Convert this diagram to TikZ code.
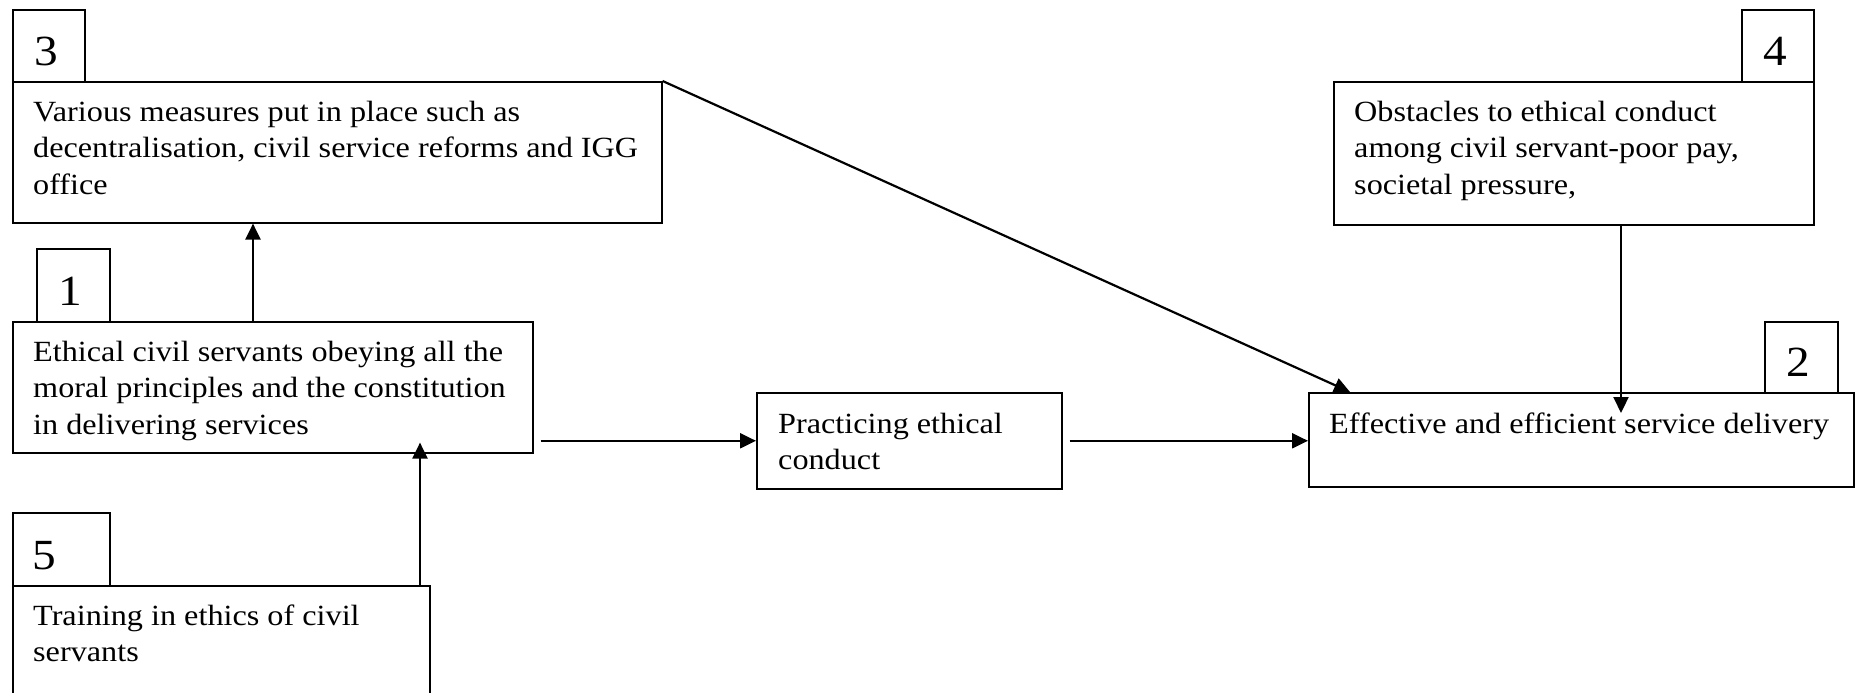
\documentclass[tikz,border=0pt]{standalone}
\usepackage{fontspec}
\setmainfont{Liberation Serif}[FakeStretch=1.1]
\usetikzlibrary{arrows.meta,calc}
\tikzset{
  box/.style={draw, line width=1.6pt, rectangle, inner sep=0pt, anchor=north west},
  txt/.style={anchor=north west, inner sep=0pt, font=\fontsize{29.3}{36.5}\selectfont, align=left},
  num/.style={anchor=base west, inner sep=0pt, font=\fontsize{43}{43}\selectfont},
  arr/.style={line width=2.2pt, -{Triangle[length=16pt,width=15pt]}},
}
\begin{document}
\begin{tikzpicture}[x=1pt,y=-1pt]
\useasboundingbox (0,0) rectangle (1856,693);
% boxes
\node[box, minimum width=649pt, minimum height=141pt] (b3) at (12,81) {};
\node[box, minimum width=72pt, minimum height=72pt] (l3) at (12,9) {};
\node[box, minimum width=480pt, minimum height=143pt] (b4) at (1333,81) {};
\node[box, minimum width=72pt, minimum height=72pt] (l4) at (1741,9) {};
\node[box, minimum width=520pt, minimum height=131pt] (b1) at (12,321) {};
\node[box, minimum width=73pt, minimum height=73pt] (l1) at (36,248) {};
\node[box, minimum width=417pt, minimum height=140pt] (b5) at (12,585) {};
\node[box, minimum width=97pt, minimum height=73pt] (l5) at (12,512) {};
\node[box, minimum width=305pt, minimum height=96pt] (bp) at (756,392) {};
\node[box, minimum width=545pt, minimum height=94pt] (b2) at (1308,392) {};
\node[box, minimum width=73pt, minimum height=71pt] (l2) at (1764,321) {};
% digits
\node[num] (n3) at ([xshift=22pt,yshift=17pt]l3.south west) {3};
\node[num] (n4) at ([xshift=22pt,yshift=17pt]l4.south west) {4};
\node[num] (n1) at ([xshift=22pt,yshift=17pt]l1.south west) {1};
\node[num] (n5) at ([xshift=20pt,yshift=17pt]l5.south west) {5};
\node[num] (n2) at ([xshift=22pt,yshift=17pt]l2.south west) {2};
% texts
\node[txt] (t3) at ([xshift=21pt,yshift=-14.6pt]b3.north west) {\strut Various measures put in place such as\\decentralisation, civil service reforms and IGG\\office};
\node[txt] (t4) at ([xshift=21pt,yshift=-14.6pt]b4.north west) {\strut Obstacles to ethical conduct\\among civil servant-poor pay,\\societal pressure,};
\node[txt] (t1) at ([xshift=21pt,yshift=-14.6pt]b1.north west) {\strut Ethical civil servants obeying all the\\moral principles and the constitution\\in delivering services};
\node[txt] (t5) at ([xshift=21pt,yshift=-14.6pt]b5.north west) {\strut Training in ethics of civil\\servants};
\node[txt] (tp) at ([xshift=22pt,yshift=-15.4pt]bp.north west) {\strut Practicing ethical\\conduct};
\node[txt] (t2) at ([xshift=21pt,yshift=-15.4pt]b2.north west) {\strut Effective and efficient service delivery};
% connectors
\coordinate (s1) at ([xshift=7pt]b1.south east);
\draw[arr] ([xshift=241pt]b1.north west) -- ([xshift=241pt]b3.south west);
\draw[arr] ([xshift=408pt]b5.north west) -- ([xshift=408pt,yshift=11pt]b1.south west);
\draw[arr] (s1 |- bp.west) -- (bp.west);
\draw[arr] ([xshift=7pt]bp.east) -- (bp.east -| b2.west);
\draw[arr] (b3.north east) -- ([xshift=42pt]b2.north west);
\draw[arr] ([xshift=288pt]b4.south west) -- ([xshift=313pt,yshift=-21pt]b2.north west);
\end{tikzpicture}
\end{document}
